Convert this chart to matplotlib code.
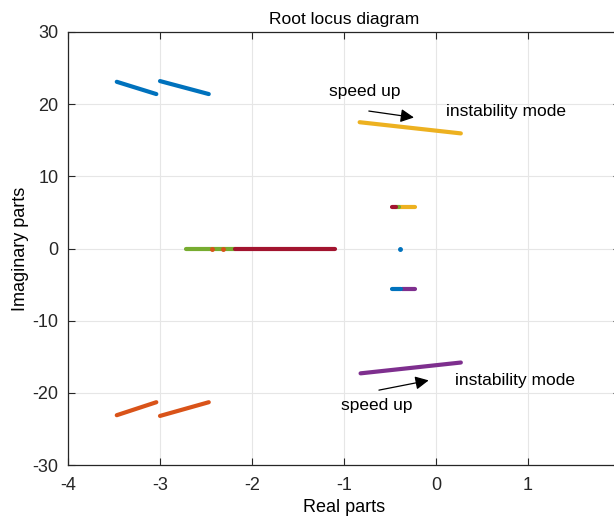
import matplotlib
matplotlib.use("Agg")
from matplotlib import pyplot as plt

# MATLAB default colours
c_blue = '#0072BD'
c_orange = '#D95319'
c_yellow = '#EDB120'
c_purple = '#7E2F8E'
c_green = '#77AC30'
c_red = '#A2142F'

# root locus branches (real, imag)
blue1_re = [-3.47, -3.04]
blue1_im = [23.1, 21.4]
blue2_re = [-3.00, -2.47]
blue2_im = [23.2, 21.4]
orange1_re = [-3.47, -3.04]
orange1_im = [-23.1, -21.3]
orange2_re = [-3.00, -2.47]
orange2_im = [-23.2, -21.3]
yellow_re = [-0.83, 0.27]
yellow_im = [17.5, 15.95]
purple_re = [-0.82, 0.27]
purple_im = [-17.3, -15.8]
green_re = [-2.72, -2.18]
green_im = [0, 0]
red_re = [-2.18, -1.10]
red_im = [0, 0]
orange_dots_re = [-2.44, -2.31]
orange_dots_im = [0, 0]
up_red_re = [-0.48, -0.43]
up_green_re = [-0.43, -0.40]
up_yellow_re = [-0.40, -0.23]
up_im = [5.7, 5.7]
lo_blue_re = [-0.48, -0.38]
lo_purple_re = [-0.37, -0.23]
lo_im = [-5.6, -5.6]
dot_re = [-0.39]
dot_im = [0]

x_ticks = [-4, -3, -2, -1, 0, 1, 2]
y_ticks = [-30, -20, -10, 0, 10, 20, 30]

plt.rcParams['font.family'] = ['Liberation Sans', 'DejaVu Sans']
plt.rcParams['axes.unicode_minus'] = False
fig = plt.figure(figsize=(6.14, 5.21), dpi=100)
ax = fig.add_axes([68 / 614, 56 / 521, 552 / 614, 433 / 521])

lw = 3.0
kw = dict(linewidth=lw, solid_capstyle='round')
ax.plot(blue1_re, blue1_im, color=c_blue, **kw)
ax.plot(blue2_re, blue2_im, color=c_blue, **kw)
ax.plot(orange1_re, orange1_im, color=c_orange, **kw)
ax.plot(orange2_re, orange2_im, color=c_orange, **kw)
ax.plot(yellow_re, yellow_im, color=c_yellow, **kw)
ax.plot(purple_re, purple_im, color=c_purple, **kw)
ax.plot(green_re, green_im, color=c_green, **kw)
ax.plot(red_re, red_im, color=c_red, **kw)
ax.plot(orange_dots_re, orange_dots_im, '.', color=c_orange, markersize=5, linestyle='none')
ax.plot(up_yellow_re, up_im, color=c_yellow, **kw)
ax.plot(up_green_re, up_im, color=c_green, **kw)
ax.plot(up_red_re, up_im, color=c_red, **kw)
ax.plot(lo_purple_re, lo_im, color=c_purple, **kw)
ax.plot(lo_blue_re, lo_im, color=c_blue, **kw)
ax.plot(dot_re, dot_im, '.', color=c_blue, markersize=5)

# annotations
arrow = dict(arrowstyle='-|>', color='black', lw=0.9, mutation_scale=20)
ax.annotate('', xy=(-0.21, 18.1), xytext=(-0.76, 19.1), arrowprops=arrow)
ax.text(-1.16, 21.7, 'speed up', fontsize=12.5, va='center', ha='left')
ax.text(0.11, 18.95, 'instability mode', fontsize=12.5, va='center', ha='left')
ax.annotate('', xy=(-0.05, -18.2), xytext=(-0.65, -19.7), arrowprops=arrow)
ax.text(0.21, -18.35, 'instability mode', fontsize=12.5, va='center', ha='left')
ax.text(-1.03, -21.7, 'speed up', fontsize=12.5, va='center', ha='left')

ax.set_xlim(-4, 2)
ax.set_ylim(-30, 30)
ax.set_xticks(x_ticks)
ax.set_yticks(y_ticks)
ax.grid(True, color='#e6e6e6', linewidth=0.8)
ax.set_axisbelow(True)
ax.tick_params(direction='in', top=True, right=True, length=5, width=0.8,
               labelsize=13, colors='#262626')
ax.tick_params(axis='x', pad=9)
ax.tick_params(axis='y', pad=7)
for s in ax.spines.values():
    s.set_color('#262626')
    s.set_linewidth(0.9)

ax.set_title('Root locus diagram', fontsize=12.5, pad=6)
ax.set_xlabel('Real parts', fontsize=13, labelpad=3)
ax.set_ylabel('Imaginary parts', fontsize=13, labelpad=2)

fig.savefig('out.png', dpi=100)
